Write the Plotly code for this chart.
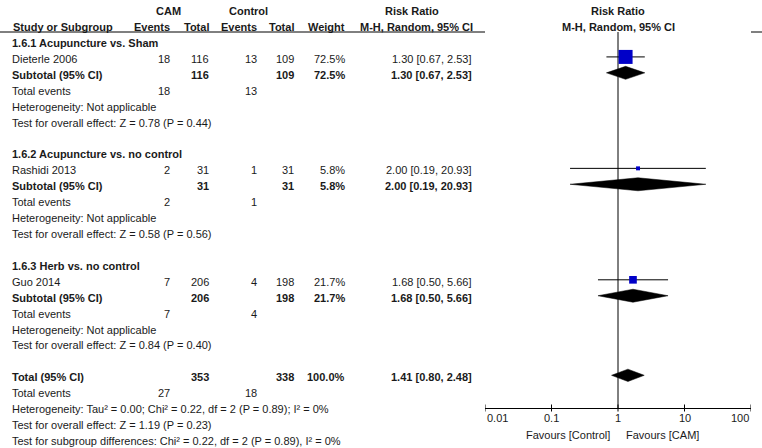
import plotly.graph_objects as go
import math

# ---------------- data ----------------
groups = ["1.6.1 Acupuncture vs. Sham", "1.6.2 Acupuncture vs. no control", "1.6.3 Herb vs. no control"]
studies = ["Dieterle 2006", "Rashidi 2013", "Guo 2014"]
cam_events = [18, 2, 7]
cam_total = [116, 31, 206]
ctrl_events = [13, 1, 4]
ctrl_total = [109, 31, 198]
weights = [72.5, 5.8, 21.7]
rr = [1.30, 2.00, 1.68]
rr_lo = [0.67, 0.19, 0.50]
rr_hi = [2.53, 20.93, 5.66]
sub_hetero = ["Heterogeneity: Not applicable"] * 3
sub_tests = ["Test for overall effect: Z = 0.78 (P = 0.44)",
             "Test for overall effect: Z = 0.58 (P = 0.56)",
             "Test for overall effect: Z = 0.84 (P = 0.40)"]

total_cam_events = 27
total_ctrl_events = 18
total_cam_n = 353
total_ctrl_n = 338
total_weight = 100.0
total_rr = 1.41
total_lo = 0.80
total_hi = 2.48
total_notes = ["Heterogeneity: Tau\u00b2 = 0.00; Chi\u00b2 = 0.22, df = 2 (P = 0.89); I\u00b2 = 0%",
               "Test for overall effect: Z = 1.19 (P = 0.23)",
               "Test for subgroup differences: Chi\u00b2 = 0.22, df = 2 (P = 0.89), I\u00b2 = 0%"]

tick_vals = [0.01, 0.1, 1, 10, 100]
tick_text = ["0.01", "0.1", "1", "10", "100"]

# ---------------- layout helpers ----------------
W, H = 762, 448
FONT = "Liberation Sans, Arial, sans-serif"
TXT = "#1a1a1a"
FS = 11

X_LABEL = 10
X_CE = 172
X_CT = 211
X_KE = 259
X_KT = 296
X_W = 347
X_RR = 474

ROW0 = 43
DY = 15.92
def row_y(i):
    return ROW0 + i * DY

AXIS_Y = 408
HEADER_LINE_Y = 32

annotations = []
def txt(x, y, s, anchor="left", bold=False, xref="x", size=FS):
    annotations.append(dict(
        x=x, y=y, xref=xref, yref="y", text=("<b>%s</b>" % s) if bold else s,
        showarrow=False, xanchor=anchor, yanchor="middle",
        font=dict(family=FONT, size=size, color=TXT)))

def rr_str(r, l, h):
    return "%.2f [%.2f, %.2f]" % (r, l, h)

# headers
txt(168, 11, "CAM", "center", True)
txt(248, 11, "Control", "center", True)
txt(412, 11, "Risk Ratio", "center", True)
txt(X_LABEL + 1, 26.5, "Study or Subgroup", "left", True)
txt(X_CE, 26.5, "Events", "right", True)
txt(X_CT, 26.5, "Total", "right", True)
txt(X_KE, 26.5, "Events", "right", True)
txt(X_KT, 26.5, "Total", "right", True)
txt(X_W, 26.5, "Weight", "right", True)
txt(X_RR + 1, 26.5, "M-H, Random, 95% CI", "right", True)
txt(0, 11, "Risk Ratio", "center", True, xref="x2")
txt(0, 26.5, "M-H, Random, 95% CI", "center", True, xref="x2")

traces = []
sq_x, sq_y, sq_s = [], [], []
ci_x, ci_y = [], []
dia_x, dia_y = [], []
MOFF = -2.0
HALF = 6.5

for g in range(3):
    base = g * 7
    txt(X_LABEL, row_y(base), groups[g], "left", True)
    y1 = row_y(base + 1)
    txt(X_LABEL, y1, studies[g])
    txt(X_CE, y1, str(cam_events[g]), "right")
    txt(X_CT, y1, str(cam_total[g]), "right")
    txt(X_KE, y1, str(ctrl_events[g]), "right")
    txt(X_KT, y1, str(ctrl_total[g]), "right")
    txt(X_W, y1, "%.1f%%" % weights[g], "right")
    txt(X_RR, y1, rr_str(rr[g], rr_lo[g], rr_hi[g]), "right")
    y2 = row_y(base + 2)
    txt(X_LABEL, y2, "Subtotal (95% CI)", "left", True)
    txt(X_CT, y2, str(cam_total[g]), "right", True)
    txt(X_KT, y2, str(ctrl_total[g]), "right", True)
    txt(X_W, y2, "%.1f%%" % weights[g], "right", True)
    txt(X_RR, y2, rr_str(rr[g], rr_lo[g], rr_hi[g]), "right", True)
    y3 = row_y(base + 3)
    txt(X_LABEL, y3, "Total events")
    txt(X_CE, y3, str(cam_events[g]), "right")
    txt(X_KE, y3, str(ctrl_events[g]), "right")
    txt(X_LABEL, row_y(base + 4), sub_hetero[g])
    txt(X_LABEL, row_y(base + 5), sub_tests[g])

    # plot marks
    sq_x.append(rr[g]); sq_y.append(y1 + MOFF)
    sq_s.append(14 * math.sqrt(weights[g] / weights[0]))
    ci_x += [rr_lo[g], rr_hi[g], None]
    ci_y += [y1 + MOFF, y1 + MOFF, None]
    yd = y2 + MOFF
    dia_x.append([rr_lo[g], rr[g], rr_hi[g], rr[g], rr_lo[g]])
    dia_y.append([yd, yd - HALF, yd, yd + HALF, yd])

# overall
yt = row_y(21)
txt(X_LABEL, yt, "Total (95% CI)", "left", True)
txt(X_CT, yt, str(total_cam_n), "right", True)
txt(X_KT, yt, str(total_ctrl_n), "right", True)
txt(X_W, yt, "%.1f%%" % total_weight, "right", True)
txt(X_RR, yt, rr_str(total_rr, total_lo, total_hi), "right", True)
y22 = row_y(22)
txt(X_LABEL, y22, "Total events")
txt(X_CE, y22, str(total_cam_events), "right")
txt(X_KE, y22, str(total_ctrl_events), "right")
for k, s in enumerate(total_notes):
    txt(X_LABEL, row_y(23 + k), s)
ydt = yt + MOFF
dia_x.append([total_lo, total_rr, total_hi, total_rr, total_lo])
dia_y.append([ydt, ydt - HALF * 0.95, ydt, ydt + HALF * 0.95, ydt])

# tick labels for forest axis
for v, t in zip(tick_vals, tick_text):
    lv = math.log10(v)
    anc = "center"
    if v == tick_vals[0]:
        anc = "left"
    elif v == tick_vals[-1]:
        anc = "right"
    txt(lv, 418, t, anc, False, xref="x2")
txt(math.log10(0.82), 435, "Favours [Control]", "right", False, xref="x2")
txt(math.log10(1.25), 435, "Favours [CAM]", "left", False, xref="x2")

# header line
traces.append(go.Scatter(x=[0, W], y=[HEADER_LINE_Y, HEADER_LINE_Y], mode="lines",
                         line=dict(color="black", width=1), xaxis="x", yaxis="y",
                         hoverinfo="skip", showlegend=False))
# vertical line of no effect
traces.append(go.Scatter(x=[1, 1], y=[HEADER_LINE_Y, AXIS_Y], mode="lines",
                         line=dict(color="black", width=1), xaxis="x2", yaxis="y",
                         hoverinfo="skip", showlegend=False))
# axis tick marks crossing axis
tx, ty = [], []
for v in tick_vals:
    tx += [v, v, None]
    ty += [AXIS_Y - 3.5, AXIS_Y + 3.5, None]
traces.append(go.Scatter(x=tx, y=ty, mode="lines", line=dict(color="black", width=1),
                         xaxis="x2", yaxis="y", hoverinfo="skip", showlegend=False))
# CI lines
traces.append(go.Scatter(x=ci_x, y=ci_y, mode="lines", line=dict(color="black", width=1),
                         xaxis="x2", yaxis="y", hoverinfo="skip", showlegend=False))
# squares
traces.append(go.Scatter(x=sq_x, y=sq_y, mode="markers",
                         marker=dict(symbol="square", size=sq_s, color="#0000C8",
                                     opacity=1, line=dict(width=0)),
                         xaxis="x2", yaxis="y", hoverinfo="skip", showlegend=False))
# diamonds
for dx, dy in zip(dia_x, dia_y):
    traces.append(go.Scatter(x=dx, y=dy, mode="lines", fill="toself", fillcolor="black",
                             line=dict(color="black", width=0.5), xaxis="x2", yaxis="y",
                             hoverinfo="skip", showlegend=False))

fig = go.Figure(traces)
fig.update_layout(
    width=W, height=H, autosize=False,
    margin=dict(l=0, r=0, t=0, b=0, pad=0),
    paper_bgcolor="white", plot_bgcolor="white",
    showlegend=False,
    xaxis=dict(range=[0, W], domain=[0, 1], visible=False, fixedrange=True),
    yaxis=dict(range=[H, 0], domain=[0, 1], visible=False, fixedrange=True),
    xaxis2=dict(type="log", range=[-2, 2], domain=[485 / W, 751 / W],
                anchor="free", position=(H - AXIS_Y) / H,
                showline=True, linecolor="black", linewidth=1,
                showticklabels=False, ticks="", showgrid=False, zeroline=False,
                fixedrange=True),
    annotations=annotations,
)
fig.write_html("out.html")
